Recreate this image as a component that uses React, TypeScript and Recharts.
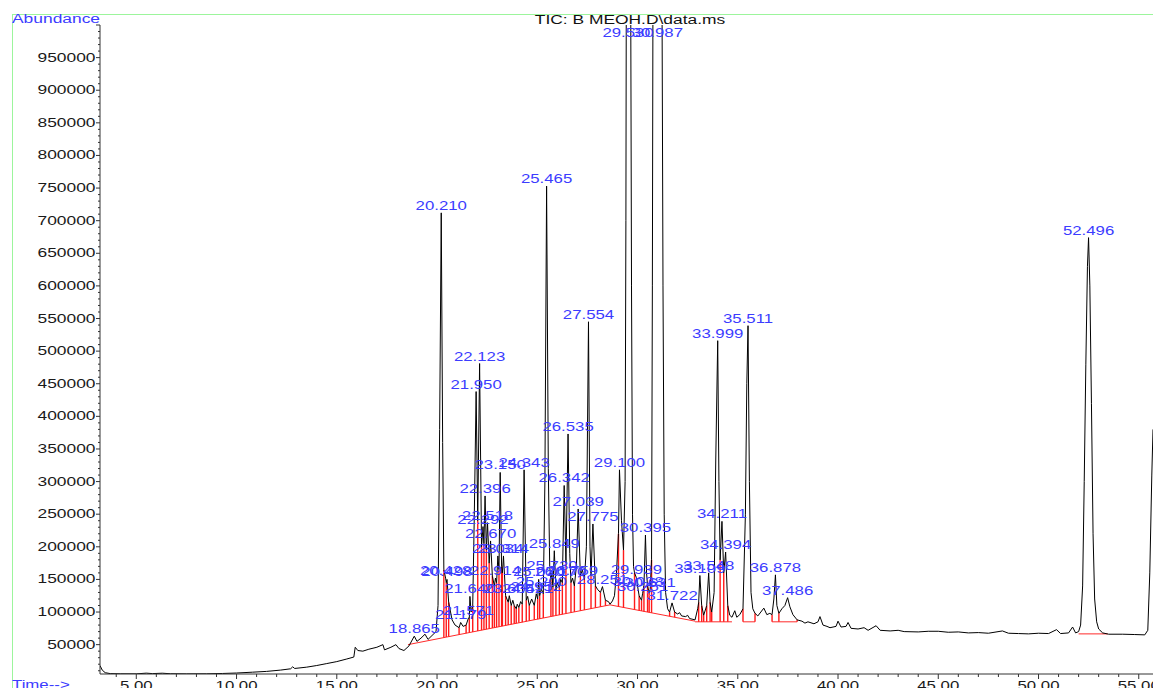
import React from 'react';
import { ComposedChart, Line, Scatter, XAxis, YAxis, ReferenceLine } from 'recharts';

// TIC trace, [time (min), abundance]
const tracePoints: [number, number][] = [
  [3.19, 18000], [3.3, 11000], [3.45, 7000], [3.7, 5600], [4.2, 5300], [5.0, 5200], [5.5, 6300], [5.8, 5600],
  [6.3, 6200], [6.7, 5400], [7.5, 5200], [8.5, 5300], [9.3, 5800], [10.0, 6500], [10.8, 7800], [11.5, 9000],
  [12.2, 11000], [12.7, 13000], [12.8, 16000], [12.9, 13500], [13.5, 15500], [14.0, 18000], [14.5, 21000],
  [15.0, 24000], [15.5, 28000], [15.85, 31000], [15.92, 46000], [16.05, 41000], [16.3, 40000], [16.6, 43000],
  [17.0, 46000], [17.3, 50000], [17.38, 42000], [17.7, 46000], [17.95, 50000], [18.1, 44000], [18.35, 41000],
  [18.6, 48000], [18.865, 63000], [19.0, 55000], [19.2, 60000], [19.4, 66000], [19.55, 58000], [19.75, 64000],
  [19.95, 70000], [20.05, 110000], [20.13, 380000], [20.21, 712000], [20.28, 360000], [20.34, 165000],
  [20.428, 152000], [20.46, 145000], [20.498, 150000], [20.58, 115000], [20.75, 88000], [20.9, 80000],
  [21.1, 76000], [21.179, 84000], [21.3, 78000], [21.45, 80000], [21.571, 91000], [21.61, 90000],
  [21.64, 124000], [21.7, 100000], [21.78, 110000], [21.86, 250000], [21.95, 438000], [22.03, 240000],
  [22.123, 481000], [22.22, 200000], [22.292, 231000], [22.34, 205000], [22.396, 278000], [22.46, 195000],
  [22.518, 237000], [22.6, 175000], [22.67, 209000], [22.76, 155000], [22.86, 140000], [22.914, 152000],
  [22.97, 145000], [23.034, 186000], [23.09, 165000], [23.15, 314000], [23.22, 170000], [23.26, 160000],
  [23.314, 186000], [23.42, 125000], [23.55, 115000], [23.604, 125000], [23.7, 110000], [23.78, 118000],
  [23.85, 110000], [23.95, 105000], [24.0, 112000], [24.08, 107000], [24.17, 116000], [24.25, 112000],
  [24.343, 318000], [24.45, 118000], [24.52, 124000], [24.6, 110000], [24.72, 120000], [24.85, 110000],
  [24.95, 128000], [25.02, 120000], [25.07, 150000], [25.12, 125000], [25.2, 135000], [25.3, 128000],
  [25.38, 300000], [25.465, 753000], [25.55, 320000], [25.62, 170000], [25.68, 150000], [25.73, 160000],
  [25.78, 138000], [25.849, 194000], [25.93, 134000], [26.0, 145000], [26.1, 138000], [26.17, 150000],
  [26.25, 145000], [26.342, 294000], [26.43, 175000], [26.535, 373000], [26.62, 190000], [26.68, 145000],
  [26.759, 152000], [26.85, 140000], [26.95, 170000], [27.039, 258000], [27.15, 155000], [27.25, 165000],
  [27.35, 150000], [27.45, 200000], [27.554, 545000], [27.63, 200000], [27.68, 155000], [27.775, 235000],
  [27.9, 140000], [28.0, 135000], [28.15, 130000], [28.251, 139000], [28.4, 118000], [28.55, 116000],
  [28.63, 112000], [28.75, 117000], [28.85, 125000], [28.95, 160000], [29.05, 220000], [29.1, 318000],
  [29.2, 240000], [29.3, 195000], [29.38, 300000], [29.42, 700000], [29.44, 1050000], [29.53, 1800000],
  [29.66, 1050000], [29.7, 600000], [29.75, 250000], [29.8, 170000], [29.85, 160000], [29.939, 153000],
  [30.0, 140000], [30.028, 135000], [30.08, 125000], [30.2, 118000], [30.251, 128000], [30.32, 140000],
  [30.395, 218000], [30.45, 160000], [30.5, 140000], [30.58, 130000], [30.631, 134000], [30.7, 180000],
  [30.74, 600000], [30.77, 1050000], [30.987, 2600000], [31.22, 1050000], [31.27, 600000], [31.33, 250000],
  [31.4, 130000], [31.5, 105000], [31.6, 100000], [31.722, 114000], [31.85, 100000], [32.0, 97000],
  [32.1, 99000], [32.2, 94000], [32.4, 93000], [32.5, 95000], [32.6, 90000], [32.87, 88000], [33.0, 105000],
  [33.05, 115000], [33.109, 156000], [33.2, 110000], [33.3, 95000], [33.45, 110000], [33.548, 160000],
  [33.62, 115000], [33.7, 100000], [33.82, 130000], [33.9, 330000], [33.999, 516000], [34.06, 300000],
  [34.12, 180000], [34.211, 239000], [34.3, 160000], [34.394, 192000], [34.5, 110000], [34.6, 95000],
  [34.71, 92000], [34.85, 102000], [34.95, 92000], [35.1, 96000], [35.26, 105000], [35.38, 250000],
  [35.45, 450000], [35.511, 539000], [35.58, 300000], [35.66, 130000], [35.75, 105000], [35.86, 98000],
  [36.0, 94000], [36.15, 100000], [36.3, 106000], [36.45, 96000], [36.6, 98000], [36.71, 96000],
  [36.8, 120000], [36.878, 157000], [36.95, 110000], [37.05, 98000], [37.2, 105000], [37.35, 110000],
  [37.486, 122000], [37.6, 108000], [37.75, 96000], [37.96, 88000], [38.2, 86000], [38.35, 83000],
  [38.5, 85000], [38.8, 82000], [39.0, 85000], [39.1, 93000], [39.25, 80000], [39.45, 78000], [39.6, 76000],
  [39.9, 78000], [40.0, 86000], [40.15, 77000], [40.4, 78000], [40.5, 84000], [40.65, 75000], [41.0, 74000],
  [41.3, 76000], [41.5, 72000], [41.9, 79000], [42.1, 72000], [42.6, 71000], [43.0, 72000], [43.3, 70000],
  [44.0, 69500], [44.5, 70500], [45.0, 70500], [45.5, 69000], [46.0, 69500], [46.5, 68000], [47.0, 68500],
  [47.5, 67500], [48.2, 71000], [48.5, 67500], [49.0, 67000], [49.5, 66500], [50.0, 67500], [50.5, 67000],
  [50.9, 73000], [51.1, 67000], [51.5, 68000], [51.7, 77000], [51.85, 68000], [52.0, 70000], [52.1, 80000],
  [52.2, 140000], [52.28, 300000], [52.36, 480000], [52.44, 630000], [52.496, 674000], [52.56, 600000],
  [52.64, 420000], [52.72, 220000], [52.8, 120000], [52.9, 85000], [53.0, 74000], [53.2, 68000],
  [53.5, 66000], [54.2, 66000], [54.8, 65500], [55.3, 65000], [55.45, 72000], [55.55, 160000],
  [55.65, 310000], [55.71, 380000],
];

// peak labels: [text, time, height where label sits]
const peakLabels: [string, number, number][] = [
  ['18.865', 18.865, 63000], ['20.210', 20.21, 712000], ['20.428', 20.428, 152000], ['20.498', 20.498, 150000],
  ['21.179', 21.179, 84000], ['21.571', 21.571, 91000], ['21.640', 21.64, 124000], ['21.950', 21.95, 438000],
  ['22.123', 22.123, 481000], ['22.292', 22.292, 231000], ['22.396', 22.396, 278000], ['22.518', 22.518, 237000],
  ['22.670', 22.67, 209000], ['22.914', 22.914, 152000], ['23.034', 23.034, 186000], ['23.150', 23.15, 314000],
  ['23.314', 23.314, 186000], ['23.604', 23.604, 125000], ['24.343', 24.343, 318000], ['24.521', 24.52, 124000],
  ['24.952', 24.95, 128000], ['25.070', 25.07, 150000], ['25.200', 25.2, 135000], ['25.465', 25.465, 753000],
  ['25.730', 25.73, 160000], ['25.849', 25.849, 194000], ['26.170', 26.17, 150000], ['26.342', 26.342, 294000],
  ['26.535', 26.535, 373000], ['26.759', 26.759, 152000], ['27.039', 27.039, 258000], ['27.554', 27.554, 545000],
  ['27.775', 27.775, 235000], ['28.251', 28.251, 139000], ['29.100', 29.1, 318000], ['29.530', 29.53, 977000],
  ['30.987', 30.987, 977000], ['29.939', 29.939, 153000], ['30.028', 30.028, 135000], ['30.251', 30.251, 128000],
  ['30.395', 30.395, 218000], ['30.631', 30.631, 134000], ['31.722', 31.722, 114000], ['33.109', 33.109, 156000],
  ['33.548', 33.548, 160000], ['33.999', 33.999, 516000], ['34.211', 34.211, 239000], ['34.394', 34.394, 192000],
  ['35.511', 35.511, 539000], ['36.878', 36.878, 157000], ['37.486', 37.486, 122000], ['52.496', 52.496, 674000],
];

// integration baselines: [t1, v1, t2, v2]
const baselines: [number, number, number, number][] = [
  [18.55, 50000, 28.63, 111000],
  [28.63, 111000, 32.87, 86000],
  [32.87, 85000, 34.71, 85000],
  [35.26, 85000, 35.86, 85000],
  [36.71, 85000, 37.96, 85000],
  [52.0, 66500, 53.45, 66500],
];

// drop lines: [time, bottom, top]
const dropLines: [number, number, number][] = [
  [20.34, 60800, 165000], [20.46, 61600, 145000], [20.58, 62300, 115000], [21.1, 65400, 76000],
  [21.45, 67500, 80000], [21.61, 68500, 90000], [21.78, 69500, 110000], [22.03, 71100, 240000],
  [22.22, 72200, 200000], [22.34, 72900, 205000], [22.46, 73700, 195000], [22.6, 74500, 175000],
  [22.76, 75500, 155000], [22.86, 76100, 140000], [22.97, 76700, 145000], [23.09, 77400, 165000],
  [23.22, 78300, 170000], [23.26, 78500, 160000], [23.42, 79500, 125000], [23.55, 80300, 115000],
  [23.7, 81200, 110000], [23.85, 82100, 110000], [23.95, 82700, 105000], [24.08, 83500, 107000],
  [24.25, 84500, 112000], [24.45, 85700, 118000], [24.6, 86600, 110000], [24.85, 88100, 110000],
  [25.02, 89100, 120000], [25.12, 89700, 125000], [25.3, 90800, 128000], [25.68, 93100, 150000],
  [25.78, 93700, 138000], [25.93, 94600, 134000], [26.1, 95700, 138000], [26.25, 96600, 145000],
  [26.43, 97700, 175000], [26.68, 99200, 145000], [26.85, 100200, 140000], [27.15, 102000, 155000],
  [27.35, 103200, 150000], [27.68, 105200, 155000], [27.9, 106600, 140000], [28.15, 108100, 130000],
  [28.4, 109600, 118000],
  [29.05, 108500, 220000], [29.3, 107000, 195000], [29.85, 103800, 160000], [30.08, 102500, 125000],
  [30.2, 101700, 118000], [30.32, 101000, 140000], [30.5, 100000, 140000], [30.58, 99500, 130000],
  [30.7, 98800, 180000], [31.6, 93500, 100000], [31.85, 92000, 100000],
  [33.05, 85000, 115000], [33.2, 85000, 110000], [33.3, 85000, 95000], [33.45, 85000, 110000],
  [33.62, 85000, 115000], [33.7, 85000, 100000], [34.12, 85000, 180000], [34.3, 85000, 160000],
  [34.5, 85000, 110000], [35.26, 85000, 105000], [35.86, 85000, 98000], [36.71, 85000, 96000],
  [37.05, 85000, 98000], [37.96, 85000, 88000],
];

const majorTimes = [5, 10, 15, 20, 25, 30, 35, 40, 45, 50, 55];
const majorAbundance = [
  50000, 100000, 150000, 200000, 250000, 300000, 350000, 400000, 450000, 500000,
  550000, 600000, 650000, 700000, 750000, 800000, 850000, 900000, 950000,
];

const timeTicks: number[] = [];
for (let m = 4; m <= 55; m++) timeTicks.push(m);
const abundanceTicks: number[] = [];
for (let a = 10000; a <= 1000000; a += 10000) abundanceTicks.push(a);

const traceData = tracePoints.map(([t, v]) => ({ t, v }));
const labelData = peakLabels.map(([name, t, v]) => ({ name, t, v }));

const FONT = '"Liberation Sans", Arial, Helvetica, sans-serif';
const BLUE = '#3c3cff';

const XTick = (props: any) => {
  const { x, y, payload } = props;
  const major = majorTimes.includes(payload.value);
  return (
    <g>
      <line x1={x} x2={x} y1={y} y2={y + (major ? 5 : 3)} stroke="#333" />
      {major && (
        <text transform={`translate(${x},${y + 16}) scale(1.4,1)`} textAnchor="middle"
          fontSize={12} fontFamily={FONT} fill="#1a1a1a">
          {payload.value.toFixed(2)}
        </text>
      )}
    </g>
  );
};

const YTick = (props: any) => {
  const { x, y, payload } = props;
  const major = majorAbundance.includes(payload.value);
  const big = payload.value % 50000 === 0;
  return (
    <g>
      <line x1={x - (big ? 4 : 2)} x2={x} y1={y} y2={y} stroke="#333" />
      {major && (
        <text transform={`translate(${x - 4.5},${y + 4}) scale(1.45,1)`} textAnchor="end"
          fontSize={12} fontFamily={FONT} fill="#1a1a1a">
          {payload.value}
        </text>
      )}
    </g>
  );
};

const PeakTag = (props: any) => {
  const { cx, cy, payload } = props;
  if (cx == null || cy == null) return <g />;
  return (
    <text transform={`translate(${cx},${cy - 3}) scale(1.4,1)`} textAnchor="middle"
      fontSize={12} fontFamily={FONT} fill={BLUE}>
      {payload.name}
    </text>
  );
};

export default function App() {
  return (
    <div style={{ position: 'absolute', left: 0, top: 0, width: 1153, height: 688, background: '#fff',
      overflow: 'hidden', fontFamily: FONT }}>
      <div style={{ position: 'absolute', left: 0, top: 0 }}>
        <ComposedChart width={1153} height={688} data={traceData}
          margin={{ top: 25, right: 0, bottom: 0, left: 0 }}>
          <XAxis type="number" dataKey="t" domain={[3.19, 55.71]} allowDataOverflow ticks={timeTicks}
            interval={0} tick={XTick} tickLine={false} tickSize={0} tickMargin={0} height={14}
            axisLine={{ stroke: '#333' }} />
          <YAxis type="number" domain={[5000, 1000000]} allowDataOverflow ticks={abundanceTicks}
            interval={0} tick={YTick} tickLine={false} tickSize={0} tickMargin={0} width={100}
            axisLine={{ stroke: '#333' }} />
          {baselines.map(([t1, v1, t2, v2], i) => (
            <ReferenceLine key={'b' + i} segment={[{ x: t1, y: v1 }, { x: t2, y: v2 }]}
              stroke="#ff2a2a" strokeWidth={1} ifOverflow="visible" />
          ))}
          {dropLines.map(([t, lo, hi], i) => (
            <ReferenceLine key={'d' + i} segment={[{ x: t, y: lo }, { x: t, y: hi }]}
              stroke="#ff1a1a" strokeWidth={1.4} ifOverflow="visible" />
          ))}
          <Line type="linear" dataKey="v" stroke="#000" strokeWidth={1} dot={false} activeDot={false}
            isAnimationActive={false} />
          <Scatter data={labelData} dataKey="v" shape={PeakTag} isAnimationActive={false} />
        </ComposedChart>
      </div>
      <div style={{ position: 'absolute', left: 12, top: 14, right: 0, height: 1, background: '#9cf59c' }} />
      <div style={{ position: 'absolute', left: 12, top: 14, width: 1, bottom: 0, background: '#9cf59c' }} />
      <div style={{ position: 'absolute', left: 12, top: 13, fontSize: 12, lineHeight: '12px', color: BLUE,
        transform: 'scaleX(1.45)', transformOrigin: 'left center', whiteSpace: 'nowrap' }}>Abundance</div>
      <div style={{ position: 'absolute', left: 630, top: 14, fontSize: 12, lineHeight: '12px', color: '#111',
        transform: 'translateX(-50%) scaleX(1.45)', whiteSpace: 'nowrap' }}>TIC: B MEOH.D\data.ms</div>
      <div style={{ position: 'absolute', left: 12, top: 679, fontSize: 12, lineHeight: '12px', color: BLUE,
        transform: 'scaleX(1.4)', transformOrigin: 'left center', whiteSpace: 'nowrap' }}>Time--&gt;</div>
    </div>
  );
}
